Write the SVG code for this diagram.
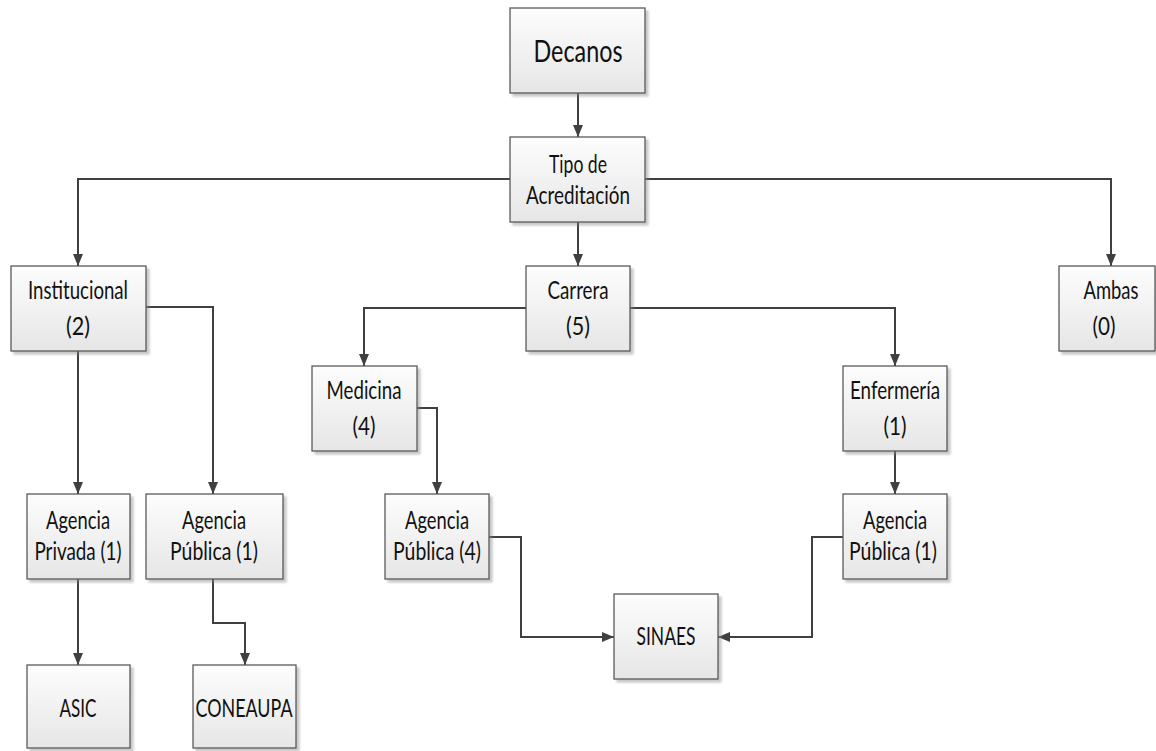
<svg xmlns="http://www.w3.org/2000/svg" width="1156" height="751" viewBox="0 0 1156 751">
<style>
.box{fill:url(#g);stroke:#5a5a5a;stroke-width:1.3;filter:url(#sh)}
.t{font-family:Lato,"Open Sans",sans-serif;font-size:25px;font-weight:400;fill:#111;text-anchor:middle}
.big{font-size:31px}
.c{fill:none;stroke:#404040;stroke-width:2;marker-end:url(#ar)}
</style>
<defs>
<linearGradient id="g" x1="0" y1="0" x2="0" y2="1"><stop offset="0" stop-color="#fdfdfd"/><stop offset="1" stop-color="#e6e6e6"/></linearGradient>
<filter id="sh" x="-10%" y="-10%" width="130%" height="130%"><feDropShadow dx="3" dy="3" stdDeviation="1.2" flood-color="#888" flood-opacity="0.45"/></filter>
<marker id="ar" viewBox="0 0 12 10" markerWidth="12" markerHeight="10" refX="12" refY="5" orient="auto" markerUnits="userSpaceOnUse"><path d="M0,0 L12,5 L0,10 z" fill="#404040"/></marker>
</defs>
<g id="connectors">
<path class="c" d="M578,93 V137"/>
<path class="c" d="M510,179 H78 V266"/>
<path class="c" d="M645,179 H1111 V266"/>
<path class="c" d="M578,222 V266"/>
<path class="c" d="M78,351 V494"/>
<path class="c" d="M146,307 H213 V494"/>
<path class="c" d="M78,579 V665"/>
<path class="c" d="M213,579 V623 H245 V665"/>
<path class="c" d="M526,308 H364 V366"/>
<path class="c" d="M630,308 H895 V366"/>
<path class="c" d="M417,408 H437 V494"/>
<path class="c" d="M895,451 V494"/>
<path class="c" d="M489,537 H521 V637 H614"/>
<path class="c" d="M843,537 H812 V637 H718"/>
</g>
<g id="decanos"><rect class="box" x="510" y="8" width="135" height="85"/><text class="t big" x="578" y="62" textLength="89" lengthAdjust="spacingAndGlyphs">Decanos</text></g>
<g id="tipo"><rect class="box" x="510" y="137" width="135" height="85"/><text class="t" x="578" y="173" textLength="58" lengthAdjust="spacingAndGlyphs">Tipo de</text><text class="t" x="578" y="204" textLength="104" lengthAdjust="spacingAndGlyphs">Acreditación</text></g>
<g id="institucional"><rect class="box" x="11" y="266" width="135" height="85"/><text class="t" x="78" y="299" textLength="100" lengthAdjust="spacingAndGlyphs">Institucional</text><text class="t" x="78" y="335" textLength="24" lengthAdjust="spacingAndGlyphs">(2)</text></g>
<g id="carrera"><rect class="box" x="526" y="266" width="104" height="85"/><text class="t" x="578" y="299" textLength="61" lengthAdjust="spacingAndGlyphs">Carrera</text><text class="t" x="578" y="335" textLength="24" lengthAdjust="spacingAndGlyphs">(5)</text></g>
<g id="ambas"><rect class="box" x="1059" y="266" width="96" height="85"/><text class="t" x="1111" y="299" textLength="55" lengthAdjust="spacingAndGlyphs">Ambas</text><text class="t" x="1104" y="335" textLength="23" lengthAdjust="spacingAndGlyphs">(0)</text></g>
<g id="medicina"><rect class="box" x="312" y="366" width="105" height="85"/><text class="t" x="364" y="399" textLength="75" lengthAdjust="spacingAndGlyphs">Medicina</text><text class="t" x="364" y="435" textLength="23" lengthAdjust="spacingAndGlyphs">(4)</text></g>
<g id="enfermeria"><rect class="box" x="843" y="366" width="104" height="85"/><text class="t" x="895" y="399" textLength="90" lengthAdjust="spacingAndGlyphs">Enfermería</text><text class="t" x="895" y="435" textLength="23" lengthAdjust="spacingAndGlyphs">(1)</text></g>
<g id="agencia-privada"><rect class="box" x="27" y="494" width="103" height="85"/><text class="t" x="78" y="529" textLength="64" lengthAdjust="spacingAndGlyphs">Agencia</text><text class="t" x="78" y="560" textLength="87" lengthAdjust="spacingAndGlyphs">Privada (1)</text></g>
<g id="agencia-publica-inst"><rect class="box" x="146" y="494" width="137" height="85"/><text class="t" x="214" y="529" textLength="64" lengthAdjust="spacingAndGlyphs">Agencia</text><text class="t" x="214" y="560" textLength="88" lengthAdjust="spacingAndGlyphs">Pública (1)</text></g>
<g id="agencia-publica-med"><rect class="box" x="385" y="494" width="104" height="85"/><text class="t" x="437" y="529" textLength="64" lengthAdjust="spacingAndGlyphs">Agencia</text><text class="t" x="437" y="560" textLength="88" lengthAdjust="spacingAndGlyphs">Pública (4)</text></g>
<g id="agencia-publica-enf"><rect class="box" x="843" y="494" width="104" height="85"/><text class="t" x="895" y="529" textLength="64" lengthAdjust="spacingAndGlyphs">Agencia</text><text class="t" x="893" y="560" textLength="88" lengthAdjust="spacingAndGlyphs">Pública (1)</text></g>
<g id="sinaes"><rect class="box" x="614" y="594" width="104" height="85"/><text class="t" x="666" y="645" textLength="59" lengthAdjust="spacingAndGlyphs">SINAES</text></g>
<g id="asic"><rect class="box" x="27" y="665" width="103" height="83"/><text class="t" x="78" y="717" textLength="37" lengthAdjust="spacingAndGlyphs">ASIC</text></g>
<g id="coneaupa"><rect class="box" x="193" y="665" width="103" height="83"/><text class="t" x="244" y="717" textLength="97" lengthAdjust="spacingAndGlyphs">CONEAUPA</text></g>
</svg>
